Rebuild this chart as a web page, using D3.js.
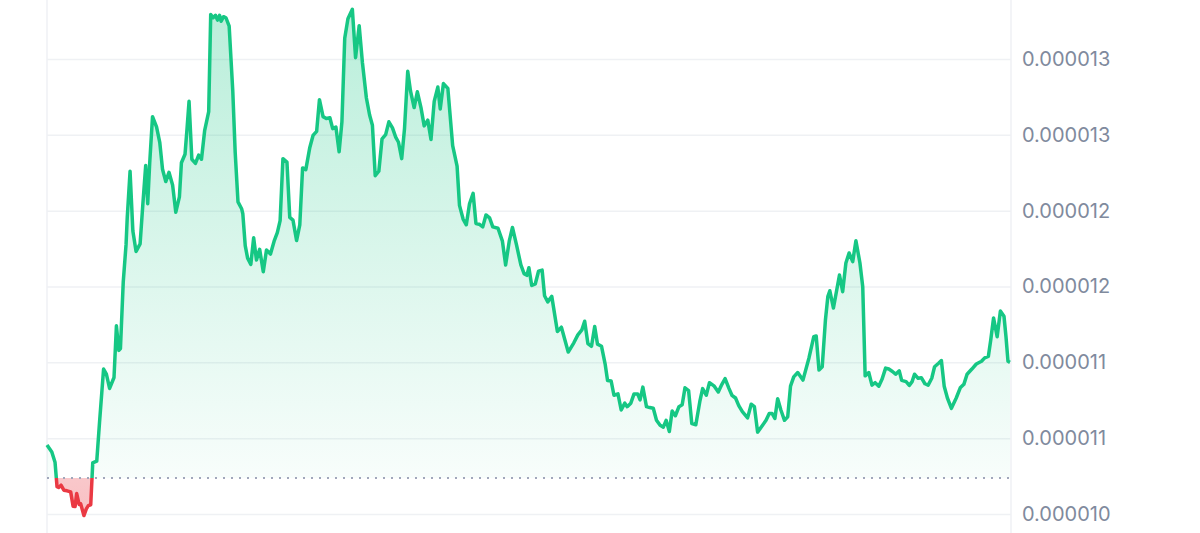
<!DOCTYPE html>
<html>
<head>
<meta charset="utf-8">
<style>
  html, body { margin: 0; padding: 0; background: #fff; overflow: hidden; }
</style>
<script src="https://cdn.jsdelivr.net/npm/d3@7"></script>
</head>
<body>
<div id="chart"></div>
<script>
// time in hours since start of the 24h window
const hours = [
  0.00, 0.12, 0.20, 0.25, 0.29, 0.35, 0.42, 0.50, 0.59, 0.65, 0.70, 0.74, 0.80, 0.84, 0.92, 0.98,
  1.03, 1.09, 1.14, 1.18, 1.24, 1.31, 1.41, 1.48, 1.56, 1.67, 1.73, 1.79, 1.83, 1.90, 1.97,
  2.00, 2.07, 2.14, 2.22, 2.32, 2.39, 2.46, 2.51, 2.56, 2.63, 2.73, 2.81, 2.88, 2.96,
  3.04, 3.13, 3.21, 3.30, 3.35, 3.44, 3.49, 3.54, 3.61, 3.70, 3.78, 3.85, 3.93,
  4.03, 4.08, 4.14, 4.20, 4.25, 4.30, 4.34, 4.40, 4.46, 4.54, 4.63, 4.69, 4.76, 4.85, 4.88, 4.94,
  5.00, 5.08, 5.15, 5.22, 5.30, 5.39, 5.47, 5.57, 5.66, 5.74, 5.81, 5.88, 5.98,
  6.05, 6.13, 6.22, 6.30, 6.37, 6.45, 6.55, 6.63, 6.72, 6.79, 6.88, 6.96,
  7.05, 7.12, 7.20, 7.28, 7.35, 7.42, 7.50, 7.61, 7.69, 7.78, 7.86, 7.96,
  8.04, 8.11, 8.18, 8.27, 8.35, 8.44, 8.52, 8.61, 8.69, 8.76, 8.84, 8.91, 8.99,
  9.06, 9.15, 9.23, 9.32, 9.40, 9.49, 9.57, 9.65, 9.74, 9.80, 9.88, 9.99,
  10.11, 10.22, 10.28, 10.37, 10.45, 10.53, 10.62, 10.69, 10.77, 10.86, 10.94,
  11.03, 11.11, 11.24, 11.35, 11.43, 11.52, 11.60, 11.70, 11.81, 11.89, 11.96,
  12.01, 12.08, 12.17, 12.25, 12.34, 12.40, 12.48, 12.58, 12.72, 12.82, 12.99,
  13.13, 13.23, 13.33, 13.40, 13.48, 13.57, 13.65, 13.72, 13.82, 13.91, 13.97,
  14.06, 14.13, 14.23, 14.31, 14.40, 14.46, 14.55, 14.63, 14.72, 14.78, 14.85, 14.94,
  15.02, 15.11, 15.19, 15.28, 15.36, 15.43, 15.51, 15.58, 15.66, 15.75, 15.83, 15.90, 15.99,
  16.07, 16.17, 16.27, 16.34, 16.43, 16.51, 16.63, 16.73, 16.82, 16.90, 16.99,
  17.07, 17.16, 17.24, 17.33, 17.46, 17.55, 17.63, 17.71, 17.82, 17.92,
  18.00, 18.07, 18.14, 18.21, 18.29, 18.38, 18.46, 18.53, 18.61, 18.71, 18.84, 18.99,
  19.11, 19.17, 19.24, 19.32, 19.40, 19.46, 19.51, 19.60, 19.75, 19.83, 19.91, 19.99,
  20.08, 20.16, 20.26, 20.33, 20.39, 20.48, 20.56, 20.64, 20.73, 20.81, 20.90, 20.98,
  21.07, 21.15, 21.24, 21.30, 21.41, 21.49, 21.56, 21.62, 21.71, 21.79, 21.88, 21.96,
  22.05, 22.12, 22.22, 22.29, 22.36, 22.44, 22.54, 22.66, 22.76, 22.85, 22.93,
  23.05, 23.16, 23.29, 23.37, 23.46, 23.52, 23.59, 23.68, 23.76, 23.85, 23.90, 23.95, 24.00
];

// price in millionths (value x 1e-6)
const prices = [
  10.455, 10.409, 10.342, 10.180, 10.175, 10.190, 10.157, 10.153, 10.146, 10.052, 10.050, 10.135, 10.063, 10.067, 9.990, 10.034,
  10.056, 10.061, 10.337, 10.342, 10.349, 10.607, 10.956, 10.922, 10.828, 10.900, 11.241, 11.079, 11.091, 11.529, 11.776,
  11.956, 12.260, 11.866, 11.731, 11.781, 12.046, 12.298, 12.046, 12.316, 12.620, 12.552, 12.451, 12.271, 12.192,
  12.253, 12.170, 11.990, 12.091, 12.316, 12.372, 12.541, 12.721, 12.339, 12.312, 12.366, 12.339, 12.530,
  12.653, 13.294, 13.272, 13.288, 13.256, 13.288, 13.249, 13.279, 13.272, 13.216, 12.788, 12.384, 12.058, 12.013, 11.980, 11.770,
  11.687, 11.646, 11.821, 11.675, 11.745, 11.597, 11.741, 11.714, 11.799, 11.855, 11.934, 12.343, 12.321,
  11.956, 11.938, 11.803, 11.907, 12.282, 12.271, 12.417, 12.496, 12.523, 12.732, 12.620, 12.608,
  12.613, 12.541, 12.552, 12.388, 12.586, 13.137, 13.265, 13.328, 13.009, 13.220, 12.979, 12.743,
  12.631, 12.563, 12.231, 12.260, 12.474, 12.501, 12.586, 12.546, 12.485, 12.451, 12.343, 12.541, 12.919,
  12.788, 12.680, 12.784, 12.680, 12.559, 12.597, 12.469, 12.721, 12.815, 12.671, 12.838, 12.806,
  12.429, 12.294, 12.035, 11.945, 11.907, 12.046, 12.114, 11.916, 11.911, 11.893, 11.972,
  11.952, 11.893, 11.884, 11.799, 11.642, 11.799, 11.889, 11.776, 11.642, 11.585, 11.574,
  11.624, 11.507, 11.518, 11.601, 11.608, 11.439, 11.399, 11.435, 11.203, 11.232, 11.068,
  11.129, 11.181, 11.214, 11.271, 11.124, 11.106, 11.237, 11.120, 11.106, 10.989, 10.881,
  10.877, 10.783, 10.792, 10.686, 10.731, 10.708, 10.731, 10.792, 10.792, 10.753, 10.837, 10.708,
  10.702, 10.697, 10.618, 10.585, 10.573, 10.618, 10.544, 10.679, 10.648, 10.708, 10.720, 10.832, 10.814,
  10.596, 10.589, 10.742, 10.827, 10.783, 10.866, 10.843, 10.805, 10.855, 10.893, 10.832,
  10.783, 10.765, 10.715, 10.675, 10.634, 10.724, 10.708, 10.540, 10.580, 10.618,
  10.663, 10.663, 10.630, 10.760, 10.686, 10.618, 10.641, 10.843, 10.904, 10.933, 10.883, 11.029,
  11.169, 11.174, 10.949, 10.971, 11.279, 11.433, 11.472, 11.358, 11.576, 11.466, 11.655, 11.721,
  11.664, 11.802, 11.655, 11.499, 10.911, 10.933, 10.850, 10.866, 10.843, 10.888, 10.962, 10.956,
  10.940, 10.922, 10.944, 10.881, 10.873, 10.848, 10.873, 10.922, 10.895, 10.899, 10.859, 10.850,
  10.895, 10.971, 10.994, 11.012, 10.843, 10.765, 10.697, 10.765, 10.832, 10.855, 10.922,
  10.956, 10.989, 11.007, 11.030, 11.039, 11.147, 11.293, 11.169, 11.338, 11.304, 11.169, 11.007, 11.000
];

const baselinePrice = 10.237; // reference (open) price, dotted line

const tickValues = [10, 10.5, 11, 11.5, 12, 12.5, 13];
const tickLabels = ['0.000010', '0.000011', '0.000011', '0.000012', '0.000012', '0.000013', '0.000013'];

const width = 1200;
const height = 533;
const plotLeft = 47;
const plotRight = 1011;

const green = '#16c784';
const red = '#ea3943';

const data = hours.map((h, i) => ({ h, p: prices[i] }));

const x = d3.scaleLinear().domain([0, 24]).range([plotLeft, plotRight - 1]);
const y = d3.scaleLinear().domain([9.875, 13.389]).range([height, 0]);
const yBase = y(baselinePrice);

const svg = d3.select('#chart')
  .append('svg')
  .attr('width', width)
  .attr('height', height);

const defs = svg.append('defs');

// clip regions above / below the reference price
defs.append('clipPath').attr('id', 'clip-up')
  .append('rect').attr('x', 0).attr('y', 0).attr('width', width).attr('height', yBase);
defs.append('clipPath').attr('id', 'clip-down')
  .append('rect').attr('x', 0).attr('y', yBase).attr('width', width).attr('height', height - yBase);

const gUp = defs.append('linearGradient')
  .attr('id', 'grad-up')
  .attr('gradientUnits', 'userSpaceOnUse')
  .attr('x1', 0).attr('x2', 0)
  .attr('y1', y(d3.max(prices))).attr('y2', yBase);
gUp.append('stop').attr('offset', 0).attr('stop-color', green).attr('stop-opacity', 0.3);
gUp.append('stop').attr('offset', 1).attr('stop-color', green).attr('stop-opacity', 0.03);

const gDown = defs.append('linearGradient')
  .attr('id', 'grad-down')
  .attr('gradientUnits', 'userSpaceOnUse')
  .attr('x1', 0).attr('x2', 0)
  .attr('y1', yBase).attr('y2', y(d3.min(prices)));
gDown.append('stop').attr('offset', 0).attr('stop-color', red).attr('stop-opacity', 0.28);
gDown.append('stop').attr('offset', 1).attr('stop-color', red).attr('stop-opacity', 0.32);

// ----- gridlines -----
const grid = svg.append('g')
  .attr('class', 'grid')
  .attr('transform', `translate(${plotLeft},0)`)
  .call(d3.axisRight(y).tickValues(tickValues).tickSize(plotRight - plotLeft).tickFormat(''));
grid.select('.domain').remove();
grid.selectAll('line').attr('stroke', '#eff1f4').attr('stroke-width', 1.5);

// vertical borders
svg.append('g').selectAll('line')
  .data([plotLeft, plotRight])
  .join('line')
  .attr('x1', (d) => d).attr('x2', (d) => d)
  .attr('y1', 0).attr('y2', height)
  .attr('stroke', '#eff1f4')
  .attr('stroke-width', 1.5);

// ----- areas -----
const area = d3.area()
  .x((d) => x(d.h))
  .y0(yBase)
  .y1((d) => y(d.p));

svg.append('path')
  .datum(data)
  .attr('d', area)
  .attr('fill', 'url(#grad-up)')
  .attr('clip-path', 'url(#clip-up)');

svg.append('path')
  .datum(data)
  .attr('d', area)
  .attr('fill', 'url(#grad-down)')
  .attr('clip-path', 'url(#clip-down)');

// dotted reference line
svg.append('line')
  .attr('x1', plotLeft).attr('x2', plotRight)
  .attr('y1', yBase).attr('y2', yBase)
  .attr('stroke', '#a1a7bb')
  .attr('stroke-width', 2)
  .attr('stroke-dasharray', '2 6');

// ----- price line -----
const line = d3.line()
  .x((d) => x(d.h))
  .y((d) => y(d.p));

svg.append('path')
  .datum(data)
  .attr('d', line)
  .attr('fill', 'none')
  .attr('stroke', green)
  .attr('stroke-width', 3.5)
  .attr('stroke-linejoin', 'round')
  .attr('clip-path', 'url(#clip-up)');

svg.append('path')
  .datum(data)
  .attr('d', line)
  .attr('fill', 'none')
  .attr('stroke', red)
  .attr('stroke-width', 3.5)
  .attr('stroke-linejoin', 'round')
  .attr('clip-path', 'url(#clip-down)');

// ----- y axis labels (right) -----
const yAxis = svg.append('g')
  .attr('transform', 'translate(1022,0)')
  .call(d3.axisRight(y).tickValues(tickValues).tickSize(0).tickPadding(0)
    .tickFormat((d, i) => tickLabels[i]));
yAxis.select('.domain').remove();
yAxis.selectAll('text')
  .attr('fill', '#808a9d')
  .attr('font-family', 'Inter, "Noto Sans", sans-serif')
  .attr('font-size', 20);
</script>
</body>
</html>
